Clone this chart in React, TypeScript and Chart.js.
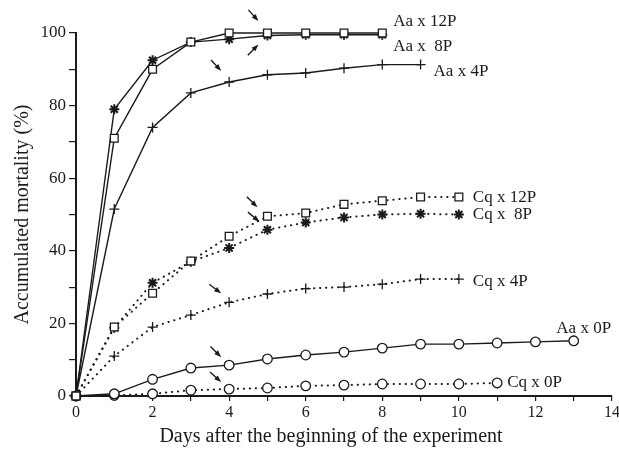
import React, { useEffect, useRef } from "react";
import { Chart, registerables } from "chart.js";

Chart.register(...registerables);

// ---- data ----
const days = [0, 1, 2, 3, 4, 5, 6, 7, 8, 9, 10, 11, 12, 13, 14];

const seriesNames = [
  "Aa x 12P",
  "Aa x  8P",
  "Aa x 4P",
  "Cq x 12P",
  "Cq x  8P",
  "Cq x 4P",
  "Aa x 0P",
  "Cq x 0P",
];

const aa12P = [0, 71, 90, 97.5, 100, 100, 100, 100, 100];
const aa8P = [0, 79, 92.5, 97.5, 98.3, 99.3, 99.5, 99.5, 99.5];
const aa4P = [0, 51.5, 74, 83.5, 86.5, 88.5, 89, 90.3, 91.3, 91.3];
const cq12P = [0, 19, 28.3, 37.2, 44, 49.5, 50.4, 52.8, 53.8, 54.8, 54.8];
const cq8P = [0, 18.8, 31.2, 37, 40.8, 45.8, 47.8, 49.2, 50, 50.2, 50];
const cq4P = [0, 11, 19, 22.3, 25.8, 28.1, 29.6, 30, 30.8, 32.2, 32.2];
const aa0P = [0, 0.6, 4.6, 7.7, 8.5, 10.2, 11.3, 12.1, 13.2, 14.3, 14.3, 14.6, 14.9, 15.2];
const cq0P = [0, 0.2, 0.6, 1.6, 1.9, 2.2, 2.8, 3.0, 3.3, 3.3, 3.3, 3.6];

const seriesValues = [aa12P, aa8P, aa4P, cq12P, cq8P, cq4P, aa0P, cq0P];

// arrows point at (series index, day)
const arrowSeries = [0, 1, 2, 3, 4, 5, 6, 7];
const arrowDays = [5, 5, 4, 5, 5, 4, 4, 4];

const xTitle = "Days after the beginning of the experiment";
const yTitle = "Accumulated mortality (%)";

// ---- styles ----
const INK = "#1a1a1a";
const SERIF = "'Liberation Serif', 'DejaVu Serif', serif";
const markerStyles = ["rect", "star", "cross", "rect", "star", "cross", "circle", "circle"];
const markerRadius = [5.5, 5, 5, 5.5, 5, 5, 4.8, 4.8];
const dotted = [false, false, false, true, true, true, false, true];
const labelPlacement = [
  { dx: 11, dy: -11, align: "left" },
  { dx: 11, dy: 12, align: "left" },
  { dx: 13, dy: 7, align: "left" },
  { dx: 14, dy: 0, align: "left" },
  { dx: 14, dy: 0, align: "left" },
  { dx: 14, dy: 2, align: "left" },
  { dx: 10, dy: -12, align: "center" },
  { dx: 10, dy: 0, align: "left" },
];
// arrow tip offsets / direction (pixel styling)
const arrowStyle = [
  { ox: -9, oy: -12, dx: 1, dy: 1.1 },
  { ox: -9, oy: 9, dx: 1, dy: -1 },
  { ox: -8, oy: -11, dx: 1, dy: 1.1 },
  { ox: -10, oy: -9, dx: 1, dy: 1 },
  { ox: -8, oy: -8, dx: 1.2, dy: 1 },
  { ox: -8, oy: -9, dx: 1.3, dy: 1 },
  { ox: -8, oy: -8, dx: 1, dy: 1 },
  { ox: -8, oy: -7, dx: 1.1, dy: 1 },
];

const annotationsPlugin = {
  id: "annotations",
  afterDatasetsDraw(chart: any) {
    const ctx = chart.ctx as CanvasRenderingContext2D;
    const xs = chart.scales.x;
    const ys = chart.scales.y;
    ctx.save();
    // arrows
    ctx.strokeStyle = INK;
    ctx.fillStyle = INK;
    arrowSeries.forEach((si, k) => {
      const d = arrowDays[k];
      const v = seriesValues[si][d];
      const st = arrowStyle[k];
      const px = xs.getPixelForValue(days[d]);
      const py = ys.getPixelForValue(v);
      const tx = px + st.ox;
      const ty = py + st.oy;
      const len = Math.hypot(st.dx, st.dy);
      const ux = st.dx / len;
      const uy = st.dy / len;
      const L = 15;
      const H = 7;
      const W = 2.6;
      ctx.lineWidth = 1.4;
      ctx.beginPath();
      ctx.moveTo(tx - ux * L, ty - uy * L);
      ctx.lineTo(tx - ux * H * 0.6, ty - uy * H * 0.6);
      ctx.stroke();
      ctx.beginPath();
      ctx.moveTo(tx, ty);
      ctx.lineTo(tx - ux * H - uy * W, ty - uy * H + ux * W);
      ctx.lineTo(tx - ux * H + uy * W, ty - uy * H - ux * W);
      ctx.closePath();
      ctx.fill();
    });
    // series labels
    ctx.font = `17px ${SERIF}`;
    ctx.textBaseline = "middle";
    seriesNames.forEach((name, i) => {
      const vals = seriesValues[i];
      const last = vals.length - 1;
      const px = xs.getPixelForValue(days[last]);
      const py = ys.getPixelForValue(vals[last]);
      const pl = labelPlacement[i];
      ctx.textAlign = pl.align as CanvasTextAlign;
      ctx.fillText(name, px + pl.dx, py + pl.dy);
    });
    // x axis title
    ctx.font = `20px ${SERIF}`;
    ctx.textAlign = "center";
    ctx.fillText(xTitle, 331, 437);
    ctx.restore();
  },
};

export default function App() {
  const ref = useRef<HTMLCanvasElement | null>(null);
  useEffect(() => {
    if (!ref.current) return;
    const datasets = seriesNames.map((name, i) => ({
      label: name,
      data: seriesValues[i].map((v, j) => ({ x: days[j], y: v })),
      borderColor: INK,
      borderWidth: dotted[i] ? 2 : 1.4,
      borderDash: dotted[i] ? [0.3, 5.7] : [],
      borderCapStyle: dotted[i] ? "round" : "butt",
      pointStyle: markerStyles[i],
      pointRadius: markerRadius[i],
      pointBorderColor: INK,
      pointBorderWidth: markerStyles[i] === "star" ? 2 : 1.3,
      pointBackgroundColor: "#ffffff",
      tension: 0,
      clip: false as any,
      fill: false,
    }));
    const chart = new Chart(ref.current, {
      type: "line",
      data: { datasets: datasets as any },
      plugins: [annotationsPlugin],
      options: {
        animation: false,
        responsive: false,
        devicePixelRatio: 1,
        layout: { padding: { top: 33, right: 6, left: 0, bottom: 0 } },
        plugins: { legend: { display: false }, tooltip: { enabled: false } },
        scales: {
          x: {
            type: "linear",
            min: 0,
            max: 14,
            afterFit: (s: any) => {
              s.height = 57;
              s.paddingLeft = 0;
              s.paddingRight = 0;
            },
            ticks: {
              stepSize: 1,
              autoSkip: false,
              maxRotation: 0,
              color: INK,
              padding: 2,
              font: { family: SERIF, size: 16 },
              callback: (v: any) => (Number(v) % 2 === 0 ? String(v) : ""),
            },
            grid: { drawOnChartArea: false, drawTicks: true, tickLength: 5, color: INK, lineWidth: 1.2 },
            border: { display: true, color: INK, width: 2 },
          },
          y: {
            type: "linear",
            min: 0,
            max: 100,
            afterFit: (s: any) => {
              s.width = 76;
              s.paddingTop = 0;
              s.paddingBottom = 0;
            },
            ticks: {
              stepSize: 10,
              autoSkip: false,
              color: INK,
              padding: 3,
              font: { family: SERIF, size: 17 },
              callback: (v: any) => (Number(v) % 20 === 0 ? String(v) : ""),
            },
            title: {
              display: true,
              text: yTitle,
              color: INK,
              font: { family: SERIF, size: 20 },
              padding: { top: 11, bottom: 0 },
            },
            grid: { drawOnChartArea: false, drawTicks: true, tickLength: 7, color: INK, lineWidth: 1.2 },
            border: { display: true, color: INK, width: 2 },
          },
        },
      } as any,
    });
    return () => chart.destroy();
  }, []);
  return (
    <div style={{ position: "absolute", left: 0, top: 0, width: 619, height: 453, background: "#fff" }}>
      <canvas ref={ref} width={619} height={453} style={{ width: 619, height: 453 }} />
    </div>
  );
}
